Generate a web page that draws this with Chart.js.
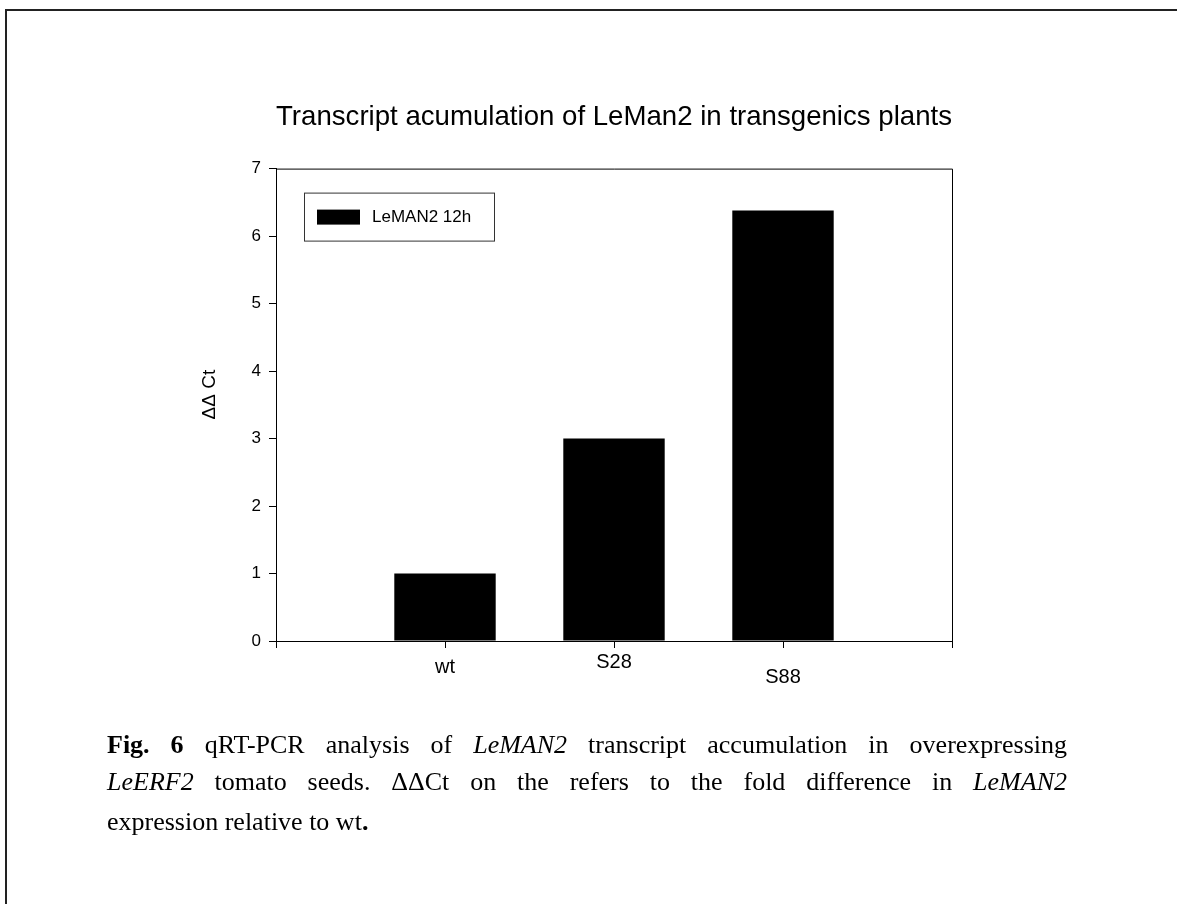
<!DOCTYPE html>
<html>
<head>
<meta charset="utf-8">
<script src="https://cdn.jsdelivr.net/npm/chart.js@4"></script>
<style>
  html, body { margin: 0; padding: 0; background: #fff; }
  #page { position: relative; width: 1177px; height: 904px; overflow: hidden; }
  /* frame around the figure (only top and left edges are visible) */
  #frame { position: absolute; left: 5px; top: 9px; width: 1300px; height: 1000px;
           border-top: 2px solid #222; border-left: 2px solid #222; }
  #chart { position: absolute; left: 0; top: 0; }
  #caption { position: absolute; left: 107px; top: 726px; width: 960px;
             font-family: "Liberation Serif", "Times New Roman", serif; font-size: 26px;
             line-height: 37px; color: #000; }
  #caption .j { text-align: justify; text-align-last: justify; }
  #caption .last { margin-top: 3px; }
</style>
</head>
<body>
<div id="page">
  <div id="frame"></div>
  <canvas id="chart" width="1177" height="904"></canvas>
  <div id="caption">
    <div class="j"><b>Fig. 6</b> qRT-PCR analysis of <i>LeMAN2</i> transcript accumulation in overexpressing</div>
    <div class="j"><i>LeERF2</i> tomato seeds. ΔΔCt on the refers to the fold difference in <i>LeMAN2</i></div>
    <div class="last">expression relative to wt<b>.</b></div>
  </div>
</div>
<script>
// categories (empty slots at both ends keep the bars away from the frame)
const groups = ['', 'wt', 'S28', 'S88', ''];
// ΔΔCt values
const leman2_12h = [null, 1.0, 3.0, 6.38, null];
const yMin = 0, yMax = 7, yStep = 1;

// label vertical offsets below the x axis, one per category
const labelDy = [0, 26, 21, 36, 0];

const ARIAL = '"Liberation Sans", Arial, sans-serif';

// box around the plot, axis title, legend and x labels
const decorations = {
  id: 'decorations',
  afterDraw(chart) {
    const ctx = chart.ctx;
    const a = chart.chartArea;
    const xs = chart.scales.x;
    ctx.save();
    ctx.strokeStyle = '#000';
    ctx.lineWidth = 1;
    ctx.beginPath();
    ctx.moveTo(a.left - 7, a.bottom + 0.5);
    ctx.lineTo(a.right, a.bottom + 0.5);
    ctx.moveTo(a.left, a.top + 0.5);
    ctx.lineTo(a.right + 0.5, a.top + 0.5);
    ctx.lineTo(a.right + 0.5, a.bottom);
    ctx.stroke();

    // x labels
    ctx.fillStyle = '#000';
    ctx.font = '20px ' + ARIAL;
    ctx.textAlign = 'center';
    ctx.textBaseline = 'middle';
    groups.forEach((g, i) => {
      if (!g) return;
      ctx.fillText(g, xs.getPixelForValue(i), a.bottom + labelDy[i]);
    });

    // y axis title
    ctx.save();
    ctx.translate(a.left - 66, a.top + 226);
    ctx.rotate(-Math.PI / 2);
    ctx.font = '19px ' + ARIAL;
    ctx.fillText('ΔΔ Ct', 0, 0);
    ctx.restore();

    // legend
    const ds = chart.data.datasets[0];
    const lx = a.left + 28, ly = a.top + 24;
    ctx.strokeStyle = '#333';
    ctx.strokeRect(lx + 0.5, ly + 0.5, 190, 48);
    ctx.fillStyle = ds.backgroundColor;
    ctx.fillRect(lx + 13, ly + 17, 43, 15);
    ctx.fillStyle = '#000';
    ctx.font = '17px ' + ARIAL;
    ctx.textAlign = 'left';
    ctx.fillText(ds.label, lx + 68, ly + 25);
    ctx.restore();
  }
};

new Chart(document.getElementById('chart'), {
  type: 'bar',
  data: {
    labels: groups,
    datasets: [{
      label: 'LeMAN2 12h',
      data: leman2_12h,
      backgroundColor: '#000',
      borderWidth: 0,
      barPercentage: 0.6,
      categoryPercentage: 1.0
    }]
  },
  options: {
    responsive: false,
    animation: false,
    layout: { padding: { left: 200, right: 225, top: 0, bottom: 203 } },
    plugins: {
      legend: { display: false },
      tooltip: { enabled: false },
      title: {
        display: true,
        fullSize: false,
        text: 'Transcript acumulation of LeMan2 in transgenics plants',
        color: '#000',
        font: { family: ARIAL, size: 28, weight: 'normal', lineHeight: 1.2 },
        padding: { top: 100, bottom: 35 }
      }
    },
    scales: {
      x: {
        offset: false,
        grid: { offset: false, drawOnChartArea: false, tickLength: 7, color: '#000' },
        border: { display: true, color: '#000' },
        ticks: { display: false },
        afterFit(s) { s.height = 60; }
      },
      y: {
        min: yMin, max: yMax,
        grid: { drawOnChartArea: false, tickLength: 7, color: '#000' },
        border: { display: true, color: '#000' },
        ticks: { stepSize: yStep, color: '#000', padding: 8, font: { family: ARIAL, size: 17 } },
        afterFit(s) { s.width = 76; }
      }
    }
  },
  plugins: [decorations]
});
</script>
</body>
</html>
